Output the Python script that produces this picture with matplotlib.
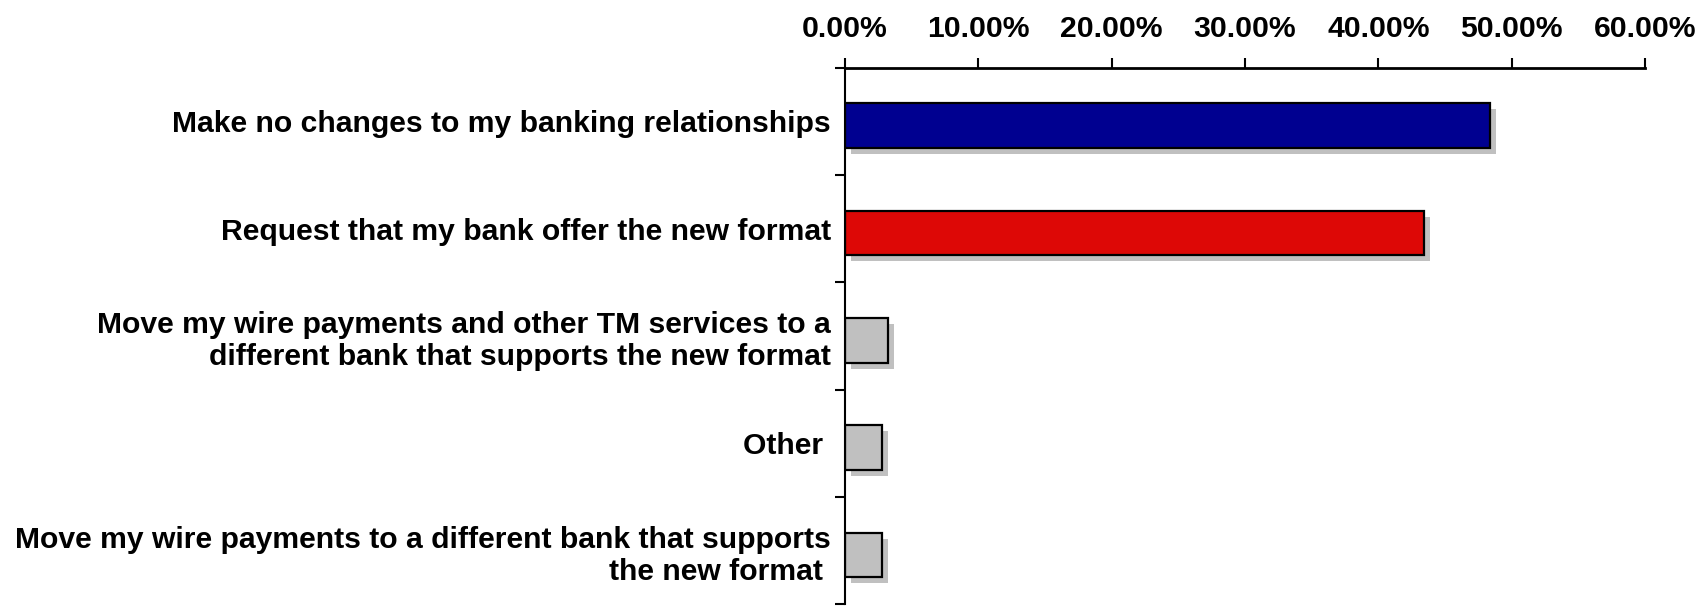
import matplotlib
matplotlib.use("Agg")
import matplotlib.pyplot as plt
import matplotlib.patheffects as pe
import numpy as np
from matplotlib.ticker import FuncFormatter

labels = [
    "Make no changes to my banking relationships",
    "Request that my bank offer the new format",
    "Move my wire payments and other TM services to a\ndifferent bank that supports the new format",
    "Other ",
    "Move my wire payments to a different bank that supports\nthe new format ",
]
values = [48.4, 43.4, 3.2, 2.8, 2.8]
colors = ["#000090", "#DD0806", "#C0C0C0", "#C0C0C0", "#C0C0C0"]
xticks = [0, 10, 20, 30, 40, 50, 60]

plt.rcParams["font.family"] = ["Liberation Sans", "DejaVu Sans"]
plt.rcParams["font.weight"] = "bold"

fig = plt.figure(figsize=(17.07, 6.06), dpi=100)
ax = fig.add_axes([0.495, 0.0025, 0.9637 - 0.495, 0.8886 - 0.0025])

y = np.arange(len(values))
shadow = [pe.SimplePatchShadow(offset=(4.3, -4.3), shadow_rgbFace="#C0C0C0", alpha=1.0), pe.Normal()]
# bars sit a little below the middle of each category band in the original
bars = ax.barh(y + 0.04, values, height=0.415, color=colors, edgecolor="black", linewidth=1.6)
for b in bars:
    b.set_path_effects(shadow)

ax.set_xlim(0, 60)
ax.set_ylim(len(values) - 0.5, -0.5)
ax.set_xticks(xticks)
ax.xaxis.set_major_formatter(FuncFormatter(lambda v, p: "%.2f%%" % v))
ax.xaxis.tick_top()
ax.tick_params(axis="x", direction="out", length=7, width=1.5, pad=11, labelsize=21.7)

ax.set_yticks(y)
ax.set_yticklabels(labels)
ax.set_yticks(np.arange(-0.5, len(values) + 0.5, 1), minor=True)
ax.tick_params(axis="y", which="major", length=0, pad=10, labelsize=21.7)
ax.tick_params(axis="y", which="minor", length=7, width=1.5)

for lab in ax.get_xticklabels() + ax.get_yticklabels():
    lab.set_fontweight("bold")

ax.spines["right"].set_visible(False)
ax.spines["bottom"].set_visible(False)
ax.spines["top"].set_linewidth(2)
ax.spines["left"].set_linewidth(1.5)

fig.savefig("out.png", dpi=100)
